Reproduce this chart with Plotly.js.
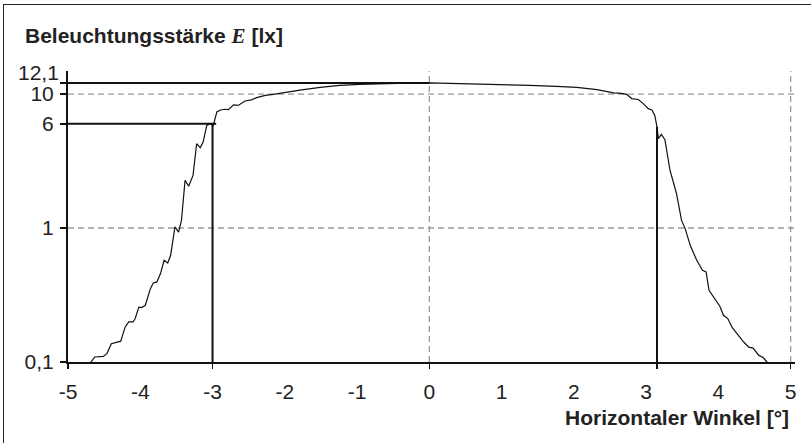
<!DOCTYPE html>
<html>
<head>
<meta charset="utf-8">
<script src="https://cdn.plot.ly/plotly-3.0.1.min.js"></script>
<style>
  html, body { margin: 0; padding: 0; background: #fff; }
  #wrap { position: relative; width: 811px; height: 443px; }
  #chart { width: 811px; height: 443px; }
  #frame { position: absolute; left: 3px; top: 4px; width: 820px; height: 450px;
           border-left: 1.5px solid #222; border-top: 1.5px solid #222; pointer-events: none; }
</style>
</head>
<body>
<div id="wrap">
  <div id="chart"></div>
  <div id="frame"></div>
</div>
<script>
// ---- data ----
const curveX = [-4.70, -4.63, -4.51, -4.46, -4.40, -4.33, -4.27, -4.21, -4.16, -4.10, -4.07, -4.02, -3.98, -3.93,
  -3.86, -3.82, -3.77, -3.72, -3.67, -3.62, -3.58, -3.52, -3.47, -3.43, -3.38, -3.33, -3.27, -3.22, -3.17, -3.13,
  -3.08, -3.03, -2.99, -2.94, -2.89, -2.83, -2.78, -2.71, -2.64, -2.55, -2.46, -2.39, -2.27, -2.16, -2.04, -1.92,
  -1.79, -1.51, -1.24, -0.96, -0.59, -0.31, 0.00,
  0.47, 0.93, 1.39, 1.76, 2.04, 2.32, 2.45, 2.55, 2.66, 2.73, 2.80, 2.89, 2.96, 3.03, 3.08, 3.12, 3.15, 3.17,
  3.21, 3.26, 3.33, 3.42, 3.49, 3.54, 3.61, 3.70, 3.78, 3.83, 3.87, 3.95, 4.02, 4.07, 4.13, 4.19, 4.27, 4.35,
  4.42, 4.48, 4.56, 4.62, 4.67, 4.74];
const curveY = [0.097, 0.109, 0.110, 0.116, 0.137, 0.141, 0.143, 0.182, 0.199, 0.199, 0.211, 0.257, 0.255, 0.265,
  0.353, 0.389, 0.396, 0.457, 0.574, 0.548, 0.626, 1.02, 0.933, 1.14, 2.27, 2.05, 2.47, 4.26, 3.98, 4.38,
  5.84, 6.0, 5.84, 7.35, 7.6, 7.7, 7.65, 8.3, 8.25, 8.87, 9.05, 9.40, 9.77, 9.94, 10.2, 10.4,
  10.7, 11.2, 11.6, 11.8, 12.0, 12.05, 12.1,
  11.97, 11.8, 11.6, 11.4, 11.2, 10.8, 10.5, 10.2, 10.1, 9.95, 9.25, 9.1, 8.48, 7.78, 7.6, 6.93, 5.68, 4.65,
  5.0, 4.57, 2.70, 1.81, 1.14, 0.99, 0.743, 0.574, 0.483, 0.47, 0.343, 0.297, 0.261, 0.223, 0.211, 0.181, 0.158, 0.141,
  0.129, 0.127, 0.112, 0.108, 0.100, 0.096];

const xTickVals = [-5, -4, -3, -2, -1, 0, 1, 2, 3, 4, 5];
const xTickText = ['-5', '-4', '-3', '-2', '-1', '0', '1', '2', '3', '4', '5'];
const yTickVals = [0.1, 1, 6, 10, 12.1];
const yTickText = ['0,1', '1', '6', '10', ''];
const maxLabel = '12,1';
const maxValue = 12.1;       // E at 0°
const levelSix = 6;           // marked level
const leftAngle = -3;         // angle where E = 6 on the left
const leftEnd = -2.95;
const rightAngle = 3.15;      // angle where curve crosses near 6 on the right
const rightTop = 5.7;
const gridY = [1, 10];
const gridX = [0, 5];
const majorTickX = [-5, -3, 0, 3.15, 5];
const xMin = -5, xMax = 5.06;
const yMin = 0.1, yMax = 14.86;
const yTitle = 'Beleuchtungsstärke ';
const yUnit = '[lx]';
const xTitle = 'Horizontaler Winkel [°]';

// ---- traces ----
const traces = [];
const dash = {color: '#9a9a9a', width: 1.3, dash: '6px,4px'};
gridY.forEach(v => traces.push({x: [xMin, xMax], y: [v, v], mode: 'lines', line: dash, hoverinfo: 'skip', showlegend: false}));
gridX.forEach(v => traces.push({x: [v, v], y: [yMin, yMax], mode: 'lines', line: dash, hoverinfo: 'skip', showlegend: false}));
const solid = {color: '#111', width: 2};
traces.push({x: [xMin, 0], y: [maxValue, maxValue], mode: 'lines', line: solid, hoverinfo: 'skip', showlegend: false});
traces.push({x: [xMin, leftEnd], y: [levelSix, levelSix], mode: 'lines', line: solid, hoverinfo: 'skip', showlegend: false});
traces.push({x: [leftAngle, leftAngle], y: [yMin, levelSix], mode: 'lines', line: solid, hoverinfo: 'skip', showlegend: false});
traces.push({x: [rightAngle, rightAngle], y: [yMin, rightTop], mode: 'lines', line: solid, hoverinfo: 'skip', showlegend: false});
traces.push({x: curveX, y: curveY, mode: 'lines', line: {color: '#111', width: 1.2}, hoverinfo: 'skip', showlegend: false});
// invisible helper on the tick-mark axis
traces.push({x: majorTickX, y: majorTickX.map(() => 1), xaxis: 'x2', mode: 'markers', marker: {opacity: 0}, hoverinfo: 'skip', showlegend: false});

const font = {family: 'Liberation Sans Narrow, Liberation Sans, Arial, sans-serif', size: 21, color: '#222'};
const titleFont = {family: 'Liberation Sans, Arial, sans-serif', size: 21, color: '#222'};

const layout = {
  width: 811, height: 443,
  margin: {l: 68, r: 16, t: 71, b: 81, pad: 0},
  paper_bgcolor: '#fff', plot_bgcolor: '#fff',
  showlegend: false,
  font: font,
  xaxis: {
    range: [xMin, xMax], tickvals: xTickVals, ticktext: xTickText, ticks: '',
    showline: true, linecolor: '#111', linewidth: 2, showgrid: false, zeroline: false,
    tickfont: font, ticklabelstandoff: 10, fixedrange: true
  },
  xaxis2: {
    range: [xMin, xMax], overlaying: 'x', anchor: 'y', side: 'bottom',
    tickvals: majorTickX, ticks: 'outside', ticklen: 6, tickwidth: 1.5, tickcolor: '#111',
    showticklabels: false, showline: false, showgrid: false, zeroline: false
  },
  yaxis: {
    type: 'log', range: [-1, 1.172], tickvals: yTickVals, ticktext: yTickText,
    ticks: 'outside', ticklen: 6, tickwidth: 1.5, tickcolor: '#111',
    showline: true, linecolor: '#111', linewidth: 2, showgrid: false, zeroline: false,
    tickfont: font, ticklabelstandoff: 2, fixedrange: true
  },
  annotations: [
    {xref: 'paper', yref: 'y', x: 0, y: Math.log10(maxValue), xanchor: 'right', yanchor: 'middle',
     xshift: -7, yshift: 10, text: maxLabel, showarrow: false, font: font},
    {xref: 'paper', yref: 'paper', x: -0.062, y: 1.12, xanchor: 'left', yanchor: 'middle', showarrow: false,
     text: '<b>' + yTitle + '<span style="font-family:\'Liberation Serif\', \'DejaVu Serif\', serif"><i>E</i></span> ' + yUnit + '</b>',
     font: titleFont},
    {xref: 'x', yref: 'paper', x: 5, y: -0.19, xanchor: 'right', yanchor: 'middle', showarrow: false,
     text: '<b>' + xTitle + '</b>', font: titleFont}
  ]
};

Plotly.newPlot('chart', traces, layout, {staticPlot: true, displayModeBar: false});
</script>
</body>
</html>
